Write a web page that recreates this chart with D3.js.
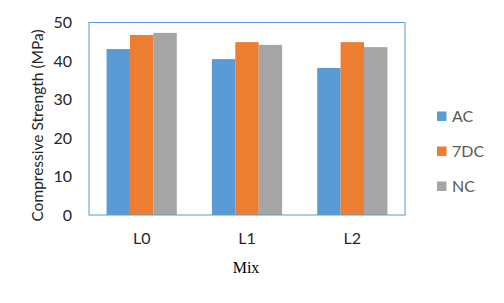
<!DOCTYPE html>
<html><head><meta charset="utf-8">
<script src="https://cdn.jsdelivr.net/npm/d3@7"></script>
<style>body{margin:0;background:#fff}</style>
</head><body>
<svg id="c" width="504" height="303"></svg>
<script>
const categories = ["L0", "L1", "L2"];
const seriesNames = ["AC", "7DC", "NC"];
const AC = [43.1, 40.5, 38.2];
const DC7 = [46.75, 44.9, 44.9];
const NC = [47.3, 44.2, 43.6];
const yTicks = [0, 10, 20, 30, 40, 50];
const colors = ["#5B9BD5", "#ED7D31", "#A5A5A5"];
const seriesValues = [AC, DC7, NC];

(function () {
const svg = d3.select("#c");
const pL = 89, pR = 405, pT = 22.5, pB = 215;
const font = "Lato, 'Open Sans', sans-serif";

const band = (pR - pL) / categories.length;
const barW = band / 4.5;
const xc = d3.scaleBand().domain(categories).range([pL, pR]);
const xs = d3.scaleBand().domain(seriesNames).range([0, barW * 3]);
const y = d3.scaleLinear().domain([0, 50]).range([pB, pT]);

categories.forEach((c, i) => {
  const g = svg.append("g").attr("transform", `translate(${xc(c) + (band - barW * 3) / 2},0)`);
  seriesNames.forEach((s, j) => {
    g.append("rect")
      .attr("x", xs(s))
      .attr("width", xs.bandwidth())
      .attr("y", y(seriesValues[j][i]))
      .attr("height", pB - y(seriesValues[j][i]))
      .attr("fill", colors[j]);
  });
});

svg.append("rect").attr("x", pL).attr("y", pT).attr("width", pR - pL).attr("height", pB - pT)
  .attr("fill", "none").attr("stroke", "#5B9BD5").attr("stroke-width", 1);

const yAxis = svg.append("g").attr("transform", `translate(${pL},0)`)
  .call(d3.axisLeft(y).tickValues(yTicks).tickSize(0).tickPadding(17));
yAxis.select(".domain").remove();
yAxis.selectAll("text").attr("font-family", font).attr("font-size", 16).attr("fill", "#262626");

const xAxis = svg.append("g").attr("transform", `translate(0,${pB})`)
  .call(d3.axisBottom(xc).tickSize(0).tickPadding(18));
xAxis.select(".domain").remove();
xAxis.selectAll("text").attr("font-family", font).attr("font-size", 16).attr("fill", "#262626");

svg.append("text").attr("transform", `translate(42.5,125.5) rotate(-90)`)
  .attr("text-anchor", "middle").attr("font-family", font).attr("font-size", 15.5).attr("fill", "#262626")
  .text("Compressive Strength (MPa)");

svg.append("text").attr("x", 246).attr("y", 272.5).attr("text-anchor", "middle")
  .attr("font-family", "'Liberation Serif', serif").attr("font-size", 16).attr("fill", "#000")
  .text("Mix");

const leg = svg.append("g");
seriesNames.forEach((s, j) => {
  leg.append("rect").attr("x", 437).attr("y", 111.5 + j * 35).attr("width", 9.5).attr("height", 9.5).attr("fill", colors[j]);
  leg.append("text").attr("x", 452).attr("y", 116 + j * 35).attr("dy", "0.35em")
    .attr("font-family", font).attr("font-size", 16).attr("fill", "#595959").text(s);
});
})();
</script>
</body></html>
